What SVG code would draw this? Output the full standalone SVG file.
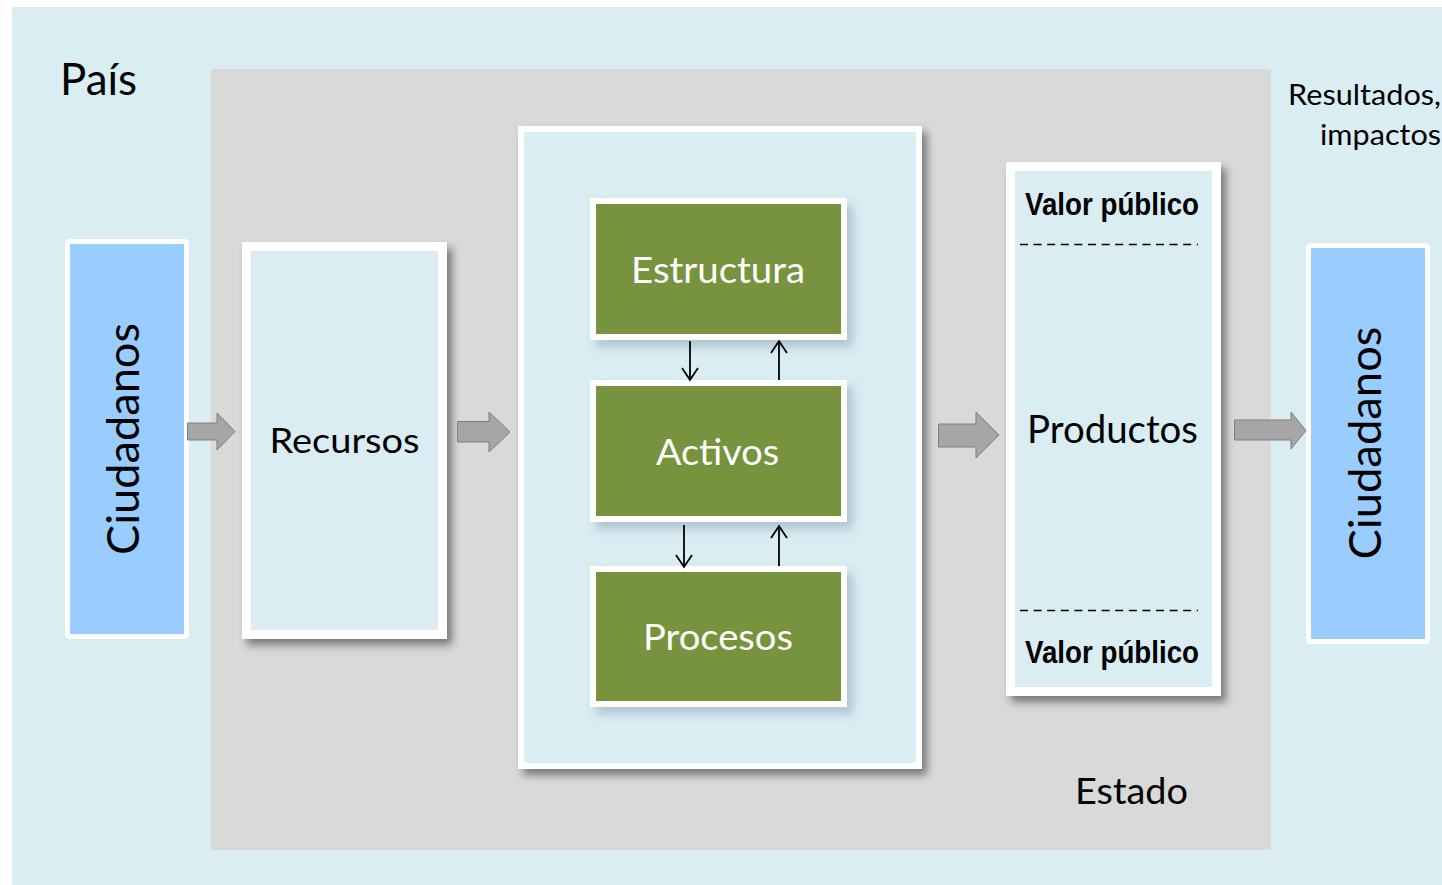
<svg xmlns="http://www.w3.org/2000/svg" width="1442" height="885" viewBox="0 0 1442 885">
<defs>
<style>
.t{font-family:Lato,"Open Sans","Liberation Sans",sans-serif;fill:#000}
.w{font-family:Lato,"Open Sans","Liberation Sans",sans-serif;fill:#fff}
.b{font-family:"Liberation Sans",Arial,sans-serif;font-weight:bold;fill:#000}
.box{fill:#DAEDF3;stroke:#fff;stroke-width:9}
.cit{fill:#99CCFF;stroke:#fff;stroke-width:5}
.grn{fill:#77933C;stroke:#fff;stroke-width:6}
.blk{fill:#A6A6A6;stroke:#7F7F7F;stroke-width:1}
.ln{stroke:#000;stroke-width:1.8;fill:none}
.dash{stroke:#000;stroke-width:1.5;stroke-dasharray:8 5.6}
</style>
<filter id="sh" x="-10%" y="-10%" width="130%" height="130%">
<feDropShadow dx="5" dy="6" stdDeviation="4" flood-color="#000" flood-opacity="0.45"/>
</filter>
<filter id="shg" x="-10%" y="-10%" width="130%" height="140%">
<feDropShadow dx="6" dy="7" stdDeviation="5" flood-color="#4a6a80" flood-opacity="0.3"/>
</filter>
<marker id="ah" markerUnits="userSpaceOnUse" markerWidth="20" markerHeight="20" viewBox="0 0 20 20" refX="18" refY="10" orient="auto">
<path d="M6,2 L18,10 L6,18" fill="none" stroke="#000" stroke-width="1.8"/>
</marker>
</defs>

<g id="pais">
<rect x="12" y="7" width="1430" height="878" fill="#DAEDF3"/>
<text class="t" x="60" y="95" font-size="44" textLength="77" lengthAdjust="spacingAndGlyphs">País</text>
</g>

<g id="estado">
<rect x="211" y="69" width="1060" height="781" fill="#D9D9D9"/>
<text class="t" x="1075" y="804" font-size="37" textLength="113" lengthAdjust="spacingAndGlyphs">Estado</text>
</g>

<g id="resultados">
<text class="t" x="1441" y="105" font-size="28" text-anchor="end" textLength="153" lengthAdjust="spacingAndGlyphs">Resultados,</text>
<text class="t" x="1441" y="145" font-size="28" text-anchor="end" textLength="121" lengthAdjust="spacingAndGlyphs">impactos</text>
</g>

<g id="ciudadanos-in">
<rect class="cit" x="67.5" y="241.5" width="119" height="395" rx="2"/>
<text class="t" x="0" y="0" font-size="44" text-anchor="middle" transform="translate(139,439) rotate(-90)" textLength="232" lengthAdjust="spacingAndGlyphs">Ciudadanos</text>
</g>

<g id="recursos">
<rect class="box" x="246.5" y="246.5" width="196" height="388" filter="url(#sh)"/>
<text class="t" x="344.5" y="453" font-size="35" text-anchor="middle" textLength="150" lengthAdjust="spacingAndGlyphs">Recursos</text>
</g>

<g id="capacidades">
<rect x="521" y="129" width="398" height="637" fill="#DAEDF3" stroke="#fff" stroke-width="6" filter="url(#sh)"/>
</g>

<g id="estructura">
<rect class="grn" x="593" y="201" width="251" height="136" filter="url(#shg)"/>
<text class="w" x="718" y="283" font-size="36" text-anchor="middle" textLength="174" lengthAdjust="spacingAndGlyphs">Estructura</text>
</g>

<g id="activos">
<rect class="grn" x="593" y="383" width="251" height="136" filter="url(#shg)"/>
<text class="w" x="717.5" y="465" font-size="36" text-anchor="middle" textLength="123" lengthAdjust="spacingAndGlyphs">Activos</text>
</g>

<g id="procesos">
<rect class="grn" x="593" y="569" width="251" height="135" filter="url(#shg)"/>
<text class="w" x="718" y="650" font-size="36" text-anchor="middle" textLength="150" lengthAdjust="spacingAndGlyphs">Procesos</text>
</g>

<g id="productos">
<rect x="1010.5" y="166.5" width="206" height="525" fill="#DAEDF3" stroke="#fff" stroke-width="9" filter="url(#sh)"/>
<text class="b" x="1025" y="215" font-size="31" textLength="174" lengthAdjust="spacingAndGlyphs">Valor público</text>
<line class="dash" x1="1020" y1="244.5" x2="1198" y2="244.5"/>
<text class="t" x="1112.5" y="443" font-size="38" text-anchor="middle" textLength="171" lengthAdjust="spacingAndGlyphs">Productos</text>
<line class="dash" x1="1020" y1="610.5" x2="1198" y2="610.5"/>
<text class="b" x="1025" y="663" font-size="31" textLength="174" lengthAdjust="spacingAndGlyphs">Valor público</text>
</g>

<g id="ciudadanos-out">
<rect class="cit" x="1308.5" y="245.5" width="119" height="396" rx="2"/>
<text class="t" x="0" y="0" font-size="44" text-anchor="middle" transform="translate(1381,443) rotate(-90)" textLength="233" lengthAdjust="spacingAndGlyphs">Ciudadanos</text>
</g>

<g id="connectors">
<polygon class="blk" points="187.5,423 217,423 217,413 235,431.5 217,450 217,440 187.5,440"/>
<polygon class="blk" points="457.5,421.5 489,421.5 489,412 510,432 489,452 489,442 457.5,442"/>
<polygon class="blk" points="938.5,424 976,424 976,412 999,435 976,458 976,447 938.5,447"/>
<polygon class="blk" points="1234.5,420 1291,420 1291,412 1306,430.5 1291,449 1291,440 1234.5,440"/>
<line class="ln" x1="690" y1="341" x2="690" y2="380" marker-end="url(#ah)"/>
<line class="ln" x1="779" y1="380" x2="779" y2="341" marker-end="url(#ah)"/>
<line class="ln" x1="684" y1="525" x2="684" y2="567" marker-end="url(#ah)"/>
<line class="ln" x1="779" y1="566" x2="779" y2="526" marker-end="url(#ah)"/>
</g>
</svg>
